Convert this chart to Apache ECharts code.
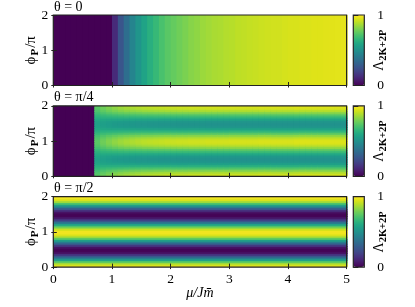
<!DOCTYPE html>
<html><head><meta charset="utf-8">
<script src="https://cdn.jsdelivr.net/npm/echarts@6/dist/echarts.min.js"></script>
<style>html,body{margin:0;padding:0;background:#fff}#c{width:415px;height:307px}</style>
</head><body><div id="c"></div>
<script>
// ---- data ----
const titles = ['θ = 0', 'θ = π/4', 'θ = π/2'];
const xTicks = [0, 1, 2, 3, 4, 5];
const yTicks = [0, 1, 2];
const cbTicks = [0, 1];
const muStep = 0.1;   // column width in mu/Jm
const phiStep = 0.05; // row height in phi/pi

// panel 1 (theta=0): value per mu column, uniform in phi
const p1Cols = [0,0,0,0,0,0,0,0,0,0,
  0.12,0.26,0.36,0.45,0.52,0.58,0.63,0.67,0.71,0.74,
  0.76,0.78,0.80,0.82,0.83,0.85,0.86,0.87,0.875,0.885,
  0.89,0.90,0.905,0.91,0.915,0.92,0.925,0.93,0.93,0.935,
  0.94,0.94,0.945,0.945,0.95,0.95,0.953,0.955,0.957,0.96];

// panel 2 (theta=pi/4): stripe peak and trough per mu column, and stripe shape per phi row
const p2Peak = [0,0,0,0,0,0,0,
  0.74,0.78,0.81,0.835,0.855,0.87,0.88,0.89,0.90,0.905,0.91,0.915,0.92,0.92,
  0.925,0.925,0.93,0.93,0.93,0.935,0.935,0.935,0.935,0.94,
  0.94,0.94,0.94,0.94,0.945,0.945,0.945,0.945,0.945,0.945,
  0.95,0.95,0.95,0.95,0.95,0.95,0.95,0.95,0.95];
const p2Trough = [0,0,0,0,0,0,0,
  0.57,0.56,0.55,0.54,0.535,0.53,0.525,0.52,0.52,0.515,0.515,0.51,0.51,0.51,
  0.505,0.505,0.505,0.505,0.505,0.5,0.5,0.5,0.5,0.5,
  0.5,0.5,0.5,0.5,0.5,0.5,0.5,0.5,0.5,0.5,
  0.5,0.5,0.5,0.5,0.5,0.5,0.5,0.5,0.5];
const p2Shape = [0.99,0.95,0.85,0.73,0.58,0.42,0.27,0.15,0.05,0.01,
  0.01,0.05,0.15,0.27,0.42,0.58,0.73,0.85,0.95,0.99,
  0.99,0.95,0.85,0.73,0.58,0.42,0.27,0.15,0.05,0.01,
  0.01,0.05,0.15,0.27,0.42,0.58,0.73,0.85,0.95,0.99];

// panel 3 (theta=pi/2): value per phi row, uniform in mu
const p3Rows = [0.98,0.94,0.85,0.72,0.57,0.42,0.27,0.14,0.05,0.01,
  0.01,0.05,0.14,0.27,0.42,0.57,0.72,0.85,0.94,0.98,
  0.98,0.94,0.85,0.72,0.57,0.42,0.27,0.14,0.05,0.01,
  0.01,0.05,0.14,0.27,0.42,0.57,0.72,0.85,0.94,0.98];

const viridis = ['#440154','#471365','#482475','#463480','#414487','#3b528b','#355f8d',
  '#2f6c8e','#2a788e','#25848e','#21918c','#1e9c89','#22a884','#2fb47c','#44bf70',
  '#5ec962','#7ad151','#9bd93c','#bddf26','#dfe318','#fde725'];

// ---- build tables ----
const xMax = xTicks[xTicks.length - 1], yMax = yTicks[yTicks.length - 1];
const d1 = p1Cols.map((v, c) => [c * muStep, 0, v, (c + 1) * muStep, yMax]);
const d2 = [];
p2Peak.forEach((pk, c) => {
  if (pk === 0) { d2.push([c * muStep, 0, 0, (c + 1) * muStep, yMax]); return; }
  p2Shape.forEach((s, r) => {
    d2.push([c * muStep, r * phiStep, p2Trough[c] + (pk - p2Trough[c]) * s, (c + 1) * muStep, (r + 1) * phiStep]);
  });
});
const d3 = p3Rows.map((v, r) => [0, r * phiStep, v, xMax, (r + 1) * phiStep]);
const datas = [d1, d2, d3];

// ---- layout ----
const FONT = 'Liberation Serif';
const L = 53.3, W = 293.3, H = 70.5;
const tops = [15, 105.8, 196.6];
const cbL = 353.3, cbW = 11;
const ink = '#222';

const grids = [], xAxes = [], yAxes = [], series = [], visualMaps = [], titleArr = [];
tops.forEach((t, i) => {
  grids.push({left: L, top: t, width: W, height: H, show: true, borderColor: ink, borderWidth: 1.2, backgroundColor: 'transparent', z: 10});
  titleArr.push({text: titles[i], left: 54, top: t - 15, padding: 0,
    textStyle: {fontFamily: FONT, fontSize: 14, fontWeight: 'normal', color: '#000'}});
  const base = {gridIndex: i, type: 'value', min: 0, max: xMax, interval: 1, position: 'bottom', z: 11,
    splitLine: {show: false}, axisLine: {show: false}};
  xAxes.push(Object.assign({}, base, {
    axisTick: {show: true, inside: false, length: 2, lineStyle: {color: ink}},
    axisLabel: {show: i === 2, margin: 5, fontFamily: FONT, fontSize: 13.5, color: '#000'},
    name: i === 2 ? 'μ/Jm\u0304' : '', nameLocation: 'middle', nameGap: 19, nameMoveOverlap: false,
    nameTextStyle: {fontFamily: FONT, fontSize: 14, fontStyle: 'italic', color: '#000'}
  }));
  xAxes.push(Object.assign({}, base, {
    axisTick: {show: true, inside: true, length: 3.5, lineStyle: {color: ink}},
    axisLabel: {show: false}
  }));
  const ybase = {gridIndex: i, type: 'value', min: 0, max: yMax, interval: 1, position: 'left', z: 11,
    splitLine: {show: false}, axisLine: {show: false}};
  yAxes.push(Object.assign({}, ybase, {
    axisTick: {show: true, inside: false, length: 2, lineStyle: {color: ink}},
    axisLabel: {show: true, margin: 5, fontFamily: FONT, fontSize: 13.5, color: '#000'},
    name: '{p|ϕ}{s|P}{p|/π}', nameLocation: 'middle', nameGap: 13, nameRotate: 90, nameMoveOverlap: false,
    nameTextStyle: {rich: {
      p: {fontFamily: FONT, fontSize: 15, color: '#000', lineHeight: 18, verticalAlign: 'middle'},
      s: {fontFamily: FONT, fontSize: 11, fontWeight: 'bold', color: '#000', lineHeight: 18, verticalAlign: 'bottom', padding: [0, 1, 0, 1]}
    }}
  }));
  yAxes.push(Object.assign({}, ybase, {
    axisTick: {show: true, inside: true, length: 3.5, lineStyle: {color: ink}},
    axisLabel: {show: false}
  }));
  series.push({
    type: 'custom', xAxisIndex: 2 * i, yAxisIndex: 2 * i, data: datas[i], clip: true, silent: true,
    renderItem: function (params, api) {
      const a = api.coord([api.value(0), api.value(4)]);
      const b = api.coord([api.value(3), api.value(1)]);
      return {type: 'rect', shape: {x: a[0], y: a[1], width: b[0] - a[0] + 1, height: b[1] - a[1] + 1},
        style: {fill: api.visual('color')}};
    }
  });
  visualMaps.push({type: 'continuous', min: 0, max: 1, dimension: 2, seriesIndex: i, show: true,
    calculable: false, orient: 'vertical', left: cbL, top: t, itemWidth: cbW, itemHeight: H, padding: 0,
    text: null, hoverLink: false, inRange: {color: viridis}});
});
// colorbar frames and ticks
tops.forEach((t, i) => {
  const gi = 3 + i;
  grids.push({left: cbL, top: t, width: cbW, height: H, show: true, borderColor: ink, borderWidth: 1.2, backgroundColor: 'transparent', z: 10});
  xAxes.push({gridIndex: gi, type: 'value', min: 0, max: 1, show: false});
  yAxes.push({gridIndex: gi, type: 'value', min: cbTicks[0], max: cbTicks[1], interval: 1, position: 'right', z: 11,
    splitLine: {show: false}, axisLine: {show: false},
    axisTick: {show: true, inside: false, length: 5, lineStyle: {color: ink}},
    axisLabel: {show: true, margin: 13, fontFamily: FONT, fontSize: 13.5, color: '#000'},
    name: '{p|Λ}{s|2K+2P}', nameLocation: 'middle', nameGap: 6, nameRotate: 90, nameMoveOverlap: false,
    nameTextStyle: {rich: {
      p: {fontFamily: FONT, fontSize: 14, color: '#000', lineHeight: 18, verticalAlign: 'middle'},
      s: {fontFamily: FONT, fontSize: 10.5, fontWeight: 'bold', color: '#000', lineHeight: 18, verticalAlign: 'bottom'}
    }}
  });
});

const chart = echarts.init(document.getElementById('c'), null, {renderer: 'canvas'});
chart.setOption({
  animation: false,
  backgroundColor: '#fff',
  title: titleArr,
  grid: grids, xAxis: xAxes, yAxis: yAxes,
  visualMap: visualMaps,
  series: series
});
</script></body></html>
